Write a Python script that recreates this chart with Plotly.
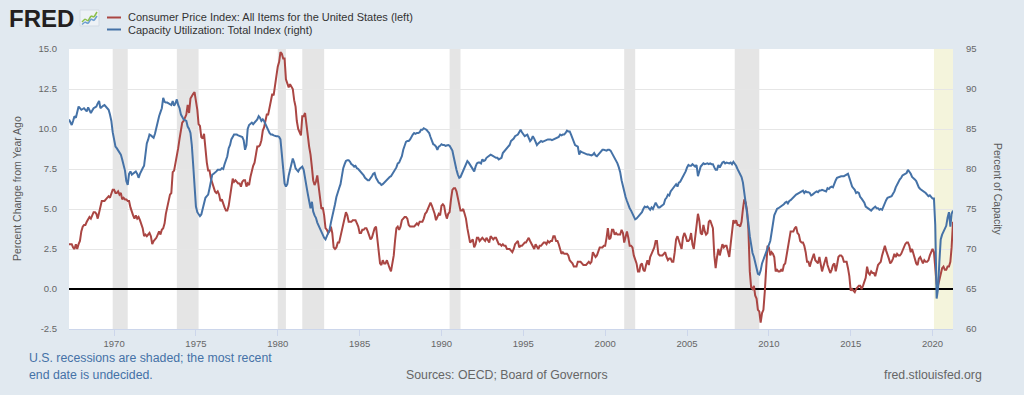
import plotly.graph_objects as go
import pandas as pd

# ---------------- data (monthly, Apr 1967 - Apr 2021) ----------------
start_month = "1967-04-01"

# CPI: All Items for the United States, percent change from year ago (left axis)
cpi_1960s = [
    2.8, 2.8, 2.8, 2.6, 2.5, 2.8, 2.5, 2.8, 3.0,
    3.6, 3.9, 4.0, 4.0, 4.2, 4.4, 4.5, 4.4, 4.6, 4.8, 4.8, 4.7,
    4.4, 4.8, 5.3, 5.5, 5.5, 5.5, 5.6, 5.7, 5.8, 5.7, 5.9, 6.2,
]
cpi_1970s = [
    6.2, 6.0, 6.0, 6.1, 5.9, 6.0, 5.6, 5.7, 5.6, 5.6, 5.5, 5.5,
    5.1, 4.8, 4.6, 4.4, 4.6, 4.4, 4.5, 4.3, 4.0, 3.8, 3.3, 3.4,
    3.3, 3.4, 3.5, 3.3, 2.8, 3.0, 3.1, 3.2, 3.4, 3.6, 3.4, 3.7,
    3.8, 4.1, 4.7, 5.1, 5.5, 5.9, 6.0, 7.3, 7.4, 7.8, 8.3, 8.8,
    9.4, 10.0, 10.4, 10.5, 10.7, 10.9, 11.5, 11.0, 11.9, 12.1, 12.2, 12.3,
    11.8, 11.2, 10.3, 10.2, 9.5, 9.4, 9.7, 8.6, 7.9, 7.4, 7.4, 6.9,
    6.6, 6.3, 6.1, 6.0, 6.1, 5.9, 5.5, 5.6, 5.3, 5.1, 4.9, 4.9,
    5.2, 5.9, 6.4, 6.9, 6.7, 6.8, 6.7, 6.6, 6.6, 6.4, 6.7, 6.8,
    6.8, 6.4, 6.6, 6.5, 7.0, 7.4, 7.7, 7.9, 8.3, 8.9, 8.9, 9.0,
    9.3, 9.9, 10.1, 10.5, 10.9, 10.9, 11.3, 11.8, 12.2, 12.1, 12.6, 13.3,
]
cpi_1980s = [
    13.9, 14.2, 14.8, 14.7, 14.4, 14.4, 13.1, 12.9, 12.6, 12.8, 12.6, 12.5,
    11.8, 11.4, 10.5, 10.0, 9.8, 9.6, 10.8, 10.8, 11.0, 10.1, 9.6, 8.9,
    8.4, 7.6, 6.8, 6.5, 6.7, 7.1, 6.4, 5.9, 5.0, 5.1, 4.6, 3.8,
    3.7, 3.5, 3.6, 3.9, 3.5, 2.6, 2.5, 2.6, 2.9, 2.9, 3.3, 3.8,
    4.2, 4.6, 4.8, 4.6, 4.2, 4.2, 4.2, 4.3, 4.3, 4.3, 4.1, 3.9,
    3.5, 3.5, 3.7, 3.7, 3.8, 3.8, 3.6, 3.3, 3.1, 3.2, 3.5, 3.8,
    3.9, 3.1, 2.2, 1.6, 1.5, 1.8, 1.6, 1.6, 1.8, 1.5, 1.3, 1.1,
    1.5, 2.1, 3.0, 3.8, 3.9, 3.7, 3.9, 4.3, 4.4, 4.5, 4.5, 4.4,
    4.0, 3.9, 3.9, 3.9, 3.9, 4.0, 4.1, 4.0, 4.2, 4.2, 4.2, 4.4,
    4.7, 4.8, 5.0, 5.1, 5.4, 5.2, 5.0, 4.7, 4.3, 4.5, 4.7, 4.6,
]
cpi_1990s = [
    5.2, 5.3, 5.2, 4.7, 4.4, 4.7, 4.8, 5.6, 6.2, 6.3, 6.3, 6.1,
    5.7, 5.3, 4.9, 4.9, 5.0, 4.7, 4.4, 3.8, 3.4, 2.9, 3.0, 3.1,
    2.6, 2.8, 3.2, 3.2, 3.0, 3.1, 3.2, 3.1, 3.0, 3.2, 3.0, 2.9,
    3.3, 3.2, 3.1, 3.2, 3.2, 3.0, 2.8, 2.8, 2.7, 2.8, 2.7, 2.7,
    2.5, 2.5, 2.5, 2.4, 2.3, 2.5, 2.8, 2.9, 3.0, 2.6, 2.7, 2.7,
    2.8, 2.9, 2.9, 3.1, 3.2, 3.0, 2.8, 2.6, 2.5, 2.8, 2.6, 2.5,
    2.7, 2.7, 2.8, 2.9, 2.9, 2.8, 3.0, 2.9, 3.0, 3.0, 3.3, 3.3,
    3.0, 3.0, 2.8, 2.5, 2.2, 2.3, 2.2, 2.2, 2.2, 2.1, 1.8, 1.7,
    1.6, 1.4, 1.4, 1.4, 1.7, 1.7, 1.7, 1.6, 1.5, 1.5, 1.5, 1.6,
    1.7, 1.6, 1.7, 2.3, 2.1, 2.0, 2.1, 2.3, 2.6, 2.6, 2.6, 2.7,
]
cpi_2000s = [
    2.7, 3.2, 3.8, 3.1, 3.2, 3.7, 3.7, 3.4, 3.5, 3.4, 3.4, 3.4,
    3.7, 3.5, 2.9, 3.3, 3.6, 3.2, 2.7, 2.7, 2.6, 2.1, 1.9, 1.6,
    1.1, 1.1, 1.5, 1.6, 1.2, 1.1, 1.5, 1.8, 1.5, 2.0, 2.2, 2.4,
    2.6, 3.0, 3.0, 2.2, 2.1, 2.1, 2.1, 2.2, 2.3, 2.0, 1.8, 1.9,
    1.9, 1.7, 1.7, 2.3, 3.1, 3.3, 3.0, 2.7, 2.5, 3.2, 3.5, 3.3,
    3.0, 3.0, 3.1, 3.5, 2.8, 2.5, 3.2, 3.6, 4.7, 4.3, 3.5, 3.4,
    4.0, 3.6, 3.4, 3.5, 4.2, 4.3, 4.1, 3.8, 2.1, 1.3, 2.0, 2.5,
    2.1, 2.4, 2.8, 2.6, 2.7, 2.7, 2.4, 2.0, 2.8, 3.5, 4.3, 4.1,
    4.3, 4.0, 4.0, 3.9, 4.2, 5.0, 5.6, 5.4, 4.9, 3.7, 1.1, 0.1,
    0.0, 0.2, -0.4, -0.6, -1.3, -1.4, -2.1, -1.5, -1.3, -0.2, 1.8, 2.7,
]
cpi_2010s = [
    2.6, 2.1, 2.3, 2.2, 2.0, 1.1, 1.2, 1.1, 1.1, 1.2, 1.1, 1.5,
    1.6, 2.1, 2.7, 3.2, 3.6, 3.6, 3.6, 3.8, 3.9, 3.5, 3.4, 3.0,
    2.9, 2.9, 2.7, 2.3, 1.7, 1.7, 1.4, 1.7, 2.0, 2.2, 1.8, 1.7,
    1.6, 2.0, 1.5, 1.1, 1.4, 1.8, 2.0, 1.5, 1.2, 1.0, 1.2, 1.5,
    1.6, 1.1, 1.5, 2.0, 2.1, 2.1, 2.0, 1.7, 1.7, 1.7, 1.3, 0.8,
    -0.1, 0.0, -0.1, -0.2, 0.0, 0.1, 0.2, 0.2, 0.0, 0.2, 0.5, 0.7,
    1.4, 1.0, 0.9, 1.1, 1.0, 1.0, 0.8, 1.1, 1.5, 1.6, 1.7, 2.1,
    2.5, 2.7, 2.4, 2.2, 1.9, 1.6, 1.7, 1.9, 2.2, 2.0, 2.2, 2.1,
    2.1, 2.2, 2.4, 2.5, 2.8, 2.9, 2.9, 2.7, 2.3, 2.5, 2.2, 1.9,
    1.6, 1.5, 1.9, 2.0, 1.8, 1.6, 1.8, 1.7, 1.7, 1.8, 2.1, 2.3,
]
cpi_2020s = [
    2.5, 2.3, 1.5, 0.3, 0.2, 0.6, 1.0, 1.3, 1.4, 1.2, 1.2, 1.4,
    1.4, 1.7, 2.6, 4.2,
]

# Capacity Utilization: Total Index, percent of capacity (right axis)
tcu_1960s = [
    86.2, 85.8, 85.5, 86.0, 86.6, 86.4, 87.0, 87.8, 87.6,
    87.4, 87.5, 87.6, 87.4, 87.2, 87.7, 87.4, 87.0, 87.3, 87.6, 87.7, 87.8,
    88.2, 88.5, 87.6, 87.8, 87.9, 88.0, 87.8, 87.6, 87.4, 86.8, 86.0, 84.6,
]
tcu_1970s = [
    83.6, 82.8, 82.6, 82.3, 82.0, 81.8, 81.2, 80.6, 79.8, 78.5, 78.0, 79.4,
    79.7, 79.3, 79.4, 79.5, 79.7, 79.4, 78.9, 79.4, 79.9, 80.1, 80.4, 82.0,
    83.2, 83.7, 84.3, 84.2, 84.1, 83.9, 84.4, 85.3, 85.9, 86.6, 87.1, 87.6,
    88.9, 88.4, 88.3, 88.3, 88.2, 88.1, 88.0, 88.5, 87.9, 88.2, 88.7, 88.0,
    87.6, 86.8, 86.5, 86.2, 86.1, 86.0, 85.3, 85.0, 84.5, 83.0, 80.5, 78.0,
    75.3, 74.6, 74.3, 74.1, 74.3, 74.9, 75.6, 76.4, 76.6, 76.8, 77.6, 78.6,
    79.3, 79.4, 79.5, 79.7, 79.9, 79.9, 79.9, 80.1, 80.0, 80.6, 81.2, 81.6,
    82.6, 83.0, 83.7, 84.0, 84.3, 84.3, 84.3, 84.2, 84.1, 84.0, 84.0, 83.6,
    82.4, 83.0, 85.0, 85.5, 85.7, 85.8, 85.6, 85.8, 85.9, 86.2, 86.6, 86.4,
    86.0, 86.2, 86.0, 85.6, 85.3, 84.9, 84.5, 84.3, 84.3, 84.2, 84.1, 84.1,
]
tcu_1980s = [
    84.1, 84.0, 83.7, 81.6, 79.6, 78.2, 77.8, 78.1, 79.2, 80.0, 80.9, 81.3,
    80.8, 80.1, 79.9, 79.7, 80.0, 80.2, 80.3, 79.9, 79.1, 77.9, 76.9, 76.0,
    75.1, 75.9, 74.7, 74.2, 73.9, 73.3, 72.9, 72.6, 72.2, 71.7, 71.4, 71.2,
    71.6, 71.9, 72.4, 73.3, 74.0, 74.6, 75.6, 76.5, 77.2, 77.6, 78.1, 79.1,
    80.1, 80.6, 81.0, 81.1, 81.1, 80.9, 80.6, 80.5, 80.3, 80.4, 80.1, 80.0,
    79.8, 79.6, 79.5, 79.2, 78.9, 78.7, 78.6, 78.6, 78.8, 79.1, 79.4, 79.5,
    78.9, 78.5, 78.3, 78.2, 78.0, 78.1, 78.3, 78.5, 78.7, 78.9, 79.0, 79.1,
    79.4, 79.6, 79.9, 80.2, 80.7, 80.8, 81.2, 81.6, 82.4, 83.0, 83.4, 83.5,
    83.5, 83.7, 84.1, 84.3, 84.5, 84.4, 84.5, 84.5, 84.6, 84.9, 84.9, 85.1,
    85.0, 84.9, 84.7, 84.5, 84.0, 83.4, 83.1, 83.0, 82.8, 82.4, 82.8, 82.9,
]
tcu_1990s = [
    83.1, 83.0, 83.0, 82.9, 83.0, 83.0, 82.9, 82.6, 82.3, 81.5, 80.5, 79.9,
    79.3, 78.9, 79.0, 79.4, 79.9, 80.3, 80.6, 81.0, 80.8, 80.5, 80.3, 79.9,
    79.7, 80.3, 80.7, 80.8, 80.8, 80.7, 81.2, 81.0, 81.1, 81.4, 81.5, 81.6,
    81.8, 81.7, 81.6, 81.6, 81.4, 81.4, 81.2, 81.3, 81.4, 82.0, 82.2, 82.4,
    82.6, 82.8, 83.0, 83.5, 83.6, 83.8, 84.1, 84.2, 84.3, 84.6, 84.9, 84.6,
    84.3, 84.1, 84.2, 84.3, 83.9, 83.5, 83.7, 84.1, 83.8, 83.5, 83.0, 83.2,
    83.3, 83.5, 83.4, 83.5, 83.6, 83.7, 83.7, 83.7, 83.7, 83.6, 83.7, 83.7,
    83.8, 83.9, 84.0, 84.3, 84.2, 84.3, 84.3, 84.5, 84.8, 84.7, 84.7, 84.3,
    83.9, 83.5, 83.0, 82.9, 82.8, 81.8, 82.2, 82.1, 82.0, 82.0, 81.9, 81.8,
    81.8, 81.7, 81.7, 81.8, 82.0, 81.7, 81.6, 81.8, 82.0, 82.2, 82.4, 82.4,
]
tcu_2000s = [
    82.3, 82.3, 82.4, 82.4, 82.3, 82.0, 81.7, 81.3, 81.0, 80.7, 80.2, 79.6,
    78.6, 77.8, 77.1, 76.5, 76.0, 75.5, 75.1, 74.8, 74.4, 74.1, 73.7, 73.8,
    74.0, 74.1, 74.4, 74.6, 75.0, 75.3, 75.2, 75.3, 75.1, 74.9, 75.2, 75.0,
    75.4, 75.8, 75.5, 75.2, 75.2, 75.3, 75.5, 75.6, 76.2, 76.4, 76.8, 76.7,
    77.2, 77.4, 77.6, 77.9, 78.1, 77.8, 78.3, 78.4, 78.7, 79.0, 79.3, 79.7,
    80.2, 80.5, 80.4, 80.4, 80.6, 80.4, 80.3, 80.5, 79.1, 79.7, 80.3, 80.5,
    80.7, 80.6, 80.7, 80.7, 80.6, 80.7, 80.6, 80.6, 80.2, 79.9, 79.9, 80.5,
    80.2, 80.6, 80.8, 80.9, 80.7, 80.8, 80.7, 80.7, 80.8, 80.6, 80.9, 80.7,
    80.4, 80.0, 79.7, 79.4, 79.0, 78.3, 77.2, 76.0, 74.3, 73.2, 71.6, 70.2,
    69.5, 69.0, 68.2, 67.4, 66.9, 66.8, 67.3, 68.2, 68.7, 69.1, 69.6, 69.9,
]
tcu_2010s = [
    70.4, 71.0, 72.0, 73.3, 74.2, 74.6, 75.0, 75.1, 75.2, 75.3, 75.5, 75.6,
    75.8, 75.9, 75.7, 76.0, 76.1, 76.3, 76.4, 76.6, 76.8, 76.9, 77.0, 77.1,
    77.2, 77.3, 77.0, 77.2, 77.1, 77.1, 77.0, 76.7, 76.8, 77.0, 77.1, 77.2,
    77.1, 77.3, 77.3, 77.4, 77.3, 77.3, 77.2, 77.6, 77.5, 77.7, 77.8, 77.7,
    78.3, 78.6, 78.9, 79.0, 79.0, 79.1, 79.1, 79.1, 79.2, 79.3, 79.4, 78.9,
    78.2, 77.8, 77.6, 77.4, 77.0, 77.1, 77.0, 76.5, 76.3, 76.1, 75.8, 75.3,
    75.2, 75.1, 74.9, 74.8, 75.0, 75.2, 75.3, 75.1, 75.1, 74.9, 75.0, 74.9,
    75.4, 75.8, 76.1, 76.4, 76.5, 76.6, 76.6, 76.9, 77.2, 77.7, 78.1, 78.5,
    78.7, 78.9, 79.2, 79.3, 79.4, 79.5, 79.9, 79.7, 79.4, 79.0, 78.9, 78.7,
    78.5, 78.0, 77.7, 77.5, 77.4, 77.3, 77.1, 77.0, 76.8, 76.6, 76.7, 76.5,
]
tcu_2020s = [
    76.3, 76.3, 73.0, 63.8, 65.0, 68.4, 71.2, 71.8, 72.2, 72.4, 72.9, 73.9,
    74.6, 72.8, 74.4, 74.8,
]

# recessions (start, end); the last one has an undecided end date
recession_starts = ["1969-12-01", "1973-11-01", "1980-01-01", "1981-07-01",
                    "1990-07-01", "2001-03-01", "2007-12-01"]
recession_ends = ["1970-11-01", "1975-03-01", "1980-07-01", "1982-11-01",
                  "1991-03-01", "2001-11-01", "2009-06-01"]
open_recession_start = "2020-02-01"

x_tick_years = [1970, 1975, 1980, 1985, 1990, 1995, 2000, 2005, 2010, 2015, 2020]
left_ticks = [-2.5, 0.0, 2.5, 5.0, 7.5, 10.0, 12.5, 15.0]
right_ticks = [60, 65, 70, 75, 80, 85, 90, 95]

cpi_name = "Consumer Price Index: All Items for the United States (left)"
tcu_name = "Capacity Utilization: Total Index (right)"

# ---------------- assemble ----------------
cpi = cpi_1960s + cpi_1970s + cpi_1980s + cpi_1990s + cpi_2000s + cpi_2010s + cpi_2020s
tcu = tcu_1960s + tcu_1970s + tcu_1980s + tcu_1990s + tcu_2000s + tcu_2010s + tcu_2020s
dates = pd.date_range(start_month, periods=len(cpi), freq="MS")
last_date = dates[-1]

RED = "#aa4643"
BLUE = "#4572a7"
FONT = "Liberation Sans, Arial, Helvetica, sans-serif"

W, H = 1024, 395
L, R, T, B = 69, 71, 49, 66
PW = W - L - R
PH = H - T - B


def px(x):
    return (x - L) / PW


def py(y):
    return (H - B - y) / PH


fig = go.Figure()
fig.add_trace(go.Scatter(x=dates, y=cpi, mode="lines", name=cpi_name,
                         line=dict(color=RED, width=2), yaxis="y", hoverinfo="skip"))
fig.add_trace(go.Scatter(x=dates, y=tcu, mode="lines", name=tcu_name,
                         line=dict(color=BLUE, width=2), yaxis="y2", hoverinfo="skip"))

shapes = []
for s, e in zip(recession_starts, recession_ends):
    shapes.append(dict(type="rect", xref="x", yref="paper", x0=s, x1=e, y0=0, y1=1,
                       fillcolor="#e5e5e5", line=dict(width=0), layer="below"))
shapes.append(dict(type="rect", xref="x", yref="paper", x0=open_recession_start,
                   x1=last_date, y0=0, y1=1, fillcolor="#f4f4dc",
                   line=dict(width=0), layer="below"))

# legend swatches
for yy, col in [(17.5, RED), (29.5, BLUE)]:
    shapes.append(dict(type="line", xref="paper", yref="paper", x0=px(107), x1=px(121),
                       y0=py(yy), y1=py(yy), line=dict(color=col, width=2)))

# small FRED logo icon
shapes.append(dict(type="rect", xref="paper", yref="paper", x0=px(80), x1=px(99),
                   y0=py(26), y1=py(10), fillcolor="#eef2f6",
                   line=dict(color="#d3dbe4", width=1)))
icon_green = [(82, 22), (85, 19), (88, 21), (91, 16), (94, 17), (97, 12)]
icon_blue = [(82, 24.5), (85, 22), (88, 23.5), (91, 19), (94, 20.5), (97, 16)]
for pts, col in [(icon_green, "#8dbf4a"), (icon_blue, "#6d9fd0")]:
    for (xa, ya), (xb, yb) in zip(pts[:-1], pts[1:]):
        shapes.append(dict(type="line", xref="paper", yref="paper", x0=px(xa), x1=px(xb),
                           y0=py(ya), y1=py(yb), line=dict(color=col, width=1.5)))

ann = []


def text(x, y, s, size, color, xanchor="left", angle=0, family=FONT):
    ann.append(dict(xref="paper", yref="paper", x=px(x), y=py(y), text=s,
                    showarrow=False, xanchor=xanchor, yanchor="middle",
                    textangle=angle, font=dict(size=size, color=color, family=family)))


text(7, 19, "<b>FRED</b>", 24, "#231f20")
text(126, 17, cpi_name, 11, "#333333")
text(126, 29.5, tcu_name, 11, "#333333")
text(17, 189, "Percent Change from Year Ago", 10.5, "#595959", xanchor="center", angle=-90)
text(998, 189, "Percent of Capacity", 10.5, "#595959", xanchor="center", angle=90)
text(27, 358, "U.S. recessions are shaded; the most recent", 12.3, "#4572a7")
text(27, 375, "end date is undecided.", 12.3, "#4572a7")
text(507, 375, "Sources: OECD; Board of Governors", 12.3, "#666666", xanchor="center")
text(984, 375, "fred.stlouisfed.org", 12.3, "#666666", xanchor="right")

tickfont = dict(size=9.5, color="#666666", family=FONT)

fig.update_layout(
    width=W, height=H,
    margin=dict(l=L, r=R, t=T, b=B, pad=0),
    paper_bgcolor="#e1e9f0",
    plot_bgcolor="#ffffff",
    showlegend=False,
    hovermode=False,
    font=dict(family=FONT),
    shapes=shapes,
    annotations=ann,
    xaxis=dict(
        type="date",
        range=[dates[0], last_date],
        tickvals=[f"{yr}-01-01" for yr in x_tick_years],
        ticktext=[str(yr) for yr in x_tick_years],
        ticks="outside", ticklen=6, tickcolor="#ccd6eb", tickwidth=1,
        showline=True, linecolor="#ccd6eb", linewidth=1,
        showgrid=False, zeroline=False,
        tickfont=tickfont, automargin=False,
    ),
    yaxis=dict(
        range=[-2.5, 15],
        tickvals=left_ticks,
        ticktext=[f"{v:.1f}" for v in left_ticks],
        showgrid=True, gridcolor="#e6e6e6", gridwidth=1,
        zeroline=True, zerolinecolor="#000000", zerolinewidth=2,
        showline=False, ticks="", ticklabelstandoff=11,
        tickfont=tickfont, automargin=False,
    ),
    yaxis2=dict(
        range=[60, 95],
        tickvals=right_ticks,
        ticktext=[str(v) for v in right_ticks],
        overlaying="y", side="right",
        showgrid=False, zeroline=False, showline=False, ticks="",
        ticklabelstandoff=12,
        tickfont=tickfont, automargin=False,
    ),
)

fig.write_html(
    "out.html",
    config={"displayModeBar": False, "staticPlot": True},
    post_script="document.body.style.margin='0px';document.body.style.overflow='hidden';",
)
